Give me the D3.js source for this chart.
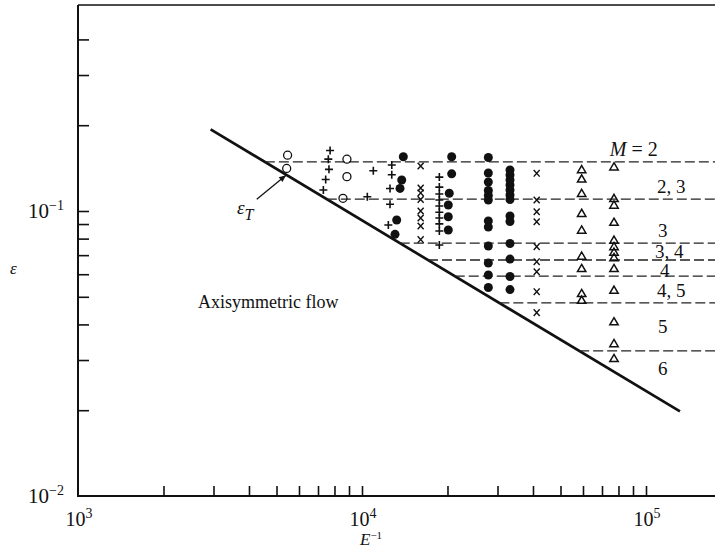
<!DOCTYPE html>
<html>
<head>
<meta charset="utf-8">
<script src="https://cdn.jsdelivr.net/npm/d3@7"></script>
<style>
  body { margin: 0; background: #fff; }
  svg { display: block; }
  text { font-family: "Liberation Serif", "Times New Roman", serif; fill: #111; }
</style>
</head>
<body>
<svg id="chart" width="715" height="550"></svg>
<script>
// Stability threshold eps_T(E^-1): two end points [E^-1, eps]
const thresholdLine = [[2930, 0.1934], [131700, 0.0198]];

// Boundaries between wavenumber regimes (eps levels of the dashed lines)
const modeBoundaries = [0.1486, 0.110, 0.0772, 0.0673, 0.0591, 0.0476, 0.0323];

// Regime labels, their E^-1 anchor and eps baseline
const modeLabels   = ["M = 2", "2, 3", "3", "3, 4", "4", "4, 5", "5", "6"];
const modeLabelE   = [74600, 109300, 110200, 107600, 112000, 109300, 110200, 110200];
const modeLabelEps = [0.156, 0.1157, 0.0811, 0.0683, 0.0589, 0.0499, 0.0373, 0.0266];

// Experimental points [E^-1, eps], one list per symbol
const openCircles = [
  [5470, 0.157], [5430, 0.141], [8850, 0.152], [8850, 0.132], [8570, 0.1108]
];
const plusPoints = [
  [7720, 0.163], [7610, 0.152], [7650, 0.140], [7450, 0.129], [7310, 0.1185],
  [10960, 0.1385], [10440, 0.1122],
  [12730, 0.145], [12730, 0.134], [12550, 0.120], [12550, 0.1056], [12380, 0.0893],
  [18720, 0.1315], [18720, 0.1213], [18720, 0.1147], [18720, 0.1093], [18720, 0.1041],
  [18720, 0.099], [18720, 0.0945], [18720, 0.0901], [18720, 0.0851], [18720, 0.076]
];
const filledCircles = [
  [13980, 0.155], [13800, 0.1285], [13610, 0.120], [13250, 0.093], [13070, 0.0828],
  [20690, 0.155], [20690, 0.135], [20290, 0.1154], [20130, 0.105], [20130, 0.0955], [20130, 0.0858],
  [27850, 0.154], [27850, 0.1359], [27850, 0.1264], [27850, 0.118], [27850, 0.1133], [27850, 0.1093],
  [27850, 0.0923], [27850, 0.0879], [27850, 0.0754], [27850, 0.0657], [27850, 0.0596], [27850, 0.0539],
  [33200, 0.1393], [33200, 0.1338], [33200, 0.1285], [33200, 0.1234], [33200, 0.1185], [33200, 0.1138],
  [33200, 0.1097], [33200, 0.096], [33200, 0.0919], [33200, 0.0769], [33200, 0.0678], [33200, 0.0589],
  [33200, 0.053]
];
const crossPoints = [
  [16090, 0.1438], [16090, 0.1204], [16090, 0.1157], [16090, 0.1097], [16090, 0.100],
  [16090, 0.0945], [16090, 0.0886], [16090, 0.0794],
  [41220, 0.1356], [41220, 0.1093], [41220, 0.0994], [41220, 0.0917], [41220, 0.075],
  [41220, 0.0664], [41220, 0.0612], [41220, 0.0521], [41220, 0.044]
];
const trianglePoints = [
  [59360, 0.1398], [59360, 0.1297], [59360, 0.1154], [59360, 0.0982], [59360, 0.0858],
  [59360, 0.0695], [59360, 0.0629], [59360, 0.0514], [59360, 0.0487],
  [77150, 0.143], [77150, 0.1108], [77150, 0.105], [77150, 0.0914], [77150, 0.0791],
  [77150, 0.0751], [77150, 0.0718], [77150, 0.0687], [77150, 0.0629], [77150, 0.0528],
  [77150, 0.0409], [77150, 0.0343], [77150, 0.0304]
];

// Axis ticks
const xTicks = [2e3, 3e3, 4e3, 5e3, 6e3, 7e3, 8e3, 9e3, 1e4,
                2e4, 3e4, 4e4, 5e4, 6e4, 7e4, 8e4, 9e4, 1e5];
const yTicks = [0.02, 0.03, 0.04, 0.05, 0.06, 0.07, 0.08, 0.09, 0.1, 0.2, 0.3, 0.4];
const xTickLabels = [[1e3, "3"], [1e4, "4"], [1e5, "5"]];
const yTickLabels = [[0.1, "\u22121"], [0.01, "\u22122"]];

// Annotations
const arrowEnds = [[4260, 0.110], [5400, 0.1335]];
const epsTLabelAt = [3628, 0.0975];
const flowLabelAt = [2645, 0.0457];

(function draw() {
  const svg = d3.select("#chart");
  const pL = 78, pR = 715, pT = 5, pB = 496;

  const x = d3.scaleLog().domain([1e3, 1e5]).range([pL, 646]);
  const y = d3.scaleLog().domain([1e-2, 1e-1]).range([pB, 211]);

  // Frame
  const frame = svg.append("g").attr("stroke", "#111").attr("fill", "none");
  frame.append("line").attr("x1", pL).attr("x2", pL).attr("y1", pT).attr("y2", pB).attr("stroke-width", 2);
  frame.append("line").attr("x1", pL - 1).attr("x2", pR).attr("y1", pB).attr("y2", pB).attr("stroke-width", 2);
  frame.append("line").attr("x1", pL).attr("x2", pR).attr("y1", pT).attr("y2", pT).attr("stroke-width", 1.5);

  // Ticks (pointing inward), drawn with d3 axes
  const xAxis = d3.axisBottom(x).tickValues(xTicks).tickSizeInner(-10).tickSizeOuter(0).tickFormat(() => "");
  const gx = svg.append("g").attr("transform", `translate(0,${pB})`).call(xAxis);
  gx.select(".domain").remove();
  gx.selectAll(".tick line").attr("stroke", "#111").attr("stroke-width", 1.6);

  const yAxis = d3.axisLeft(y).tickValues(yTicks).tickSizeInner(-11).tickSizeOuter(0).tickFormat(() => "");
  const gy = svg.append("g").attr("transform", `translate(${pL},0)`).call(yAxis);
  gy.select(".domain").remove();
  gy.selectAll(".tick line").attr("stroke", "#111").attr("stroke-width", 1.6);

  // Tick labels with superscript exponents
  xTickLabels.forEach(([v, e]) => {
    const t = svg.append("text").attr("x", x(v) + 1).attr("y", 526)
      .attr("text-anchor", "middle").attr("font-size", 20);
    t.append("tspan").text("10");
    t.append("tspan").attr("dy", -8).attr("font-size", 14).text(e);
  });
  yTickLabels.forEach(([v, e]) => {
    const t = svg.append("text").attr("x", 64).attr("y", y(v) + 7)
      .attr("text-anchor", "end").attr("font-size", 21);
    t.append("tspan").text("10");
    t.append("tspan").attr("dy", -8).attr("font-size", 14).text(e);
  });

  // Axis titles
  svg.append("text").attr("x", 10).attr("y", 274).attr("font-size", 17)
    .attr("font-style", "italic").text("\u03b5");
  const xt = svg.append("text").attr("x", 360).attr("y", 545).attr("font-size", 17);
  xt.append("tspan").attr("font-style", "italic").text("E");
  xt.append("tspan").attr("dy", -6).attr("font-size", 11).text("\u22121");

  // Threshold line eps_T
  const lineGen = d3.line().x(d => x(d[0])).y(d => y(d[1]));
  svg.append("path").datum(thresholdLine).attr("d", lineGen)
    .attr("fill", "none").attr("stroke", "#111").attr("stroke-width", 2.7);

  // Where a given eps meets the threshold line
  const [[e0, p0], [e1, p1]] = thresholdLine;
  const slope = Math.log(p1 / p0) / Math.log(e1 / e0);
  const thresholdE = eps => e0 * Math.pow(eps / p0, 1 / slope);

  // Dashed regime boundaries, running from the threshold to the right edge
  svg.append("g").selectAll("line").data(modeBoundaries).join("line")
    .attr("x1", d => x(thresholdE(d))).attr("x2", pR)
    .attr("y1", d => y(d)).attr("y2", d => y(d))
    .attr("stroke", "#222").attr("stroke-width", 1.3).attr("stroke-dasharray", "10,4");

  // Regime labels
  modeLabels.forEach((s, i) => {
    const t = svg.append("text").attr("x", x(modeLabelE[i])).attr("y", y(modeLabelEps[i]))
      .attr("font-size", 19);
    if (s.startsWith("M")) {
      t.attr("font-size", 20);
      t.append("tspan").attr("font-style", "italic").text("M");
      t.append("tspan").attr("dx", 5).text("=");
      t.append("tspan").attr("dx", 5).text("2");
    } else {
      t.text(s);
    }
  });

  // Symbols
  const pts = svg.append("g");
  pts.selectAll(".oc").data(openCircles).join("circle").attr("class", "oc")
    .attr("cx", d => x(d[0])).attr("cy", d => y(d[1])).attr("r", 4)
    .attr("fill", "none").attr("stroke", "#111").attr("stroke-width", 1.3);

  pts.selectAll(".fc").data(filledCircles).join("circle").attr("class", "fc")
    .attr("cx", d => x(d[0])).attr("cy", d => y(d[1])).attr("r", 4.5)
    .attr("fill", "#111");

  pts.selectAll(".pl").data(plusPoints).join("path").attr("class", "pl")
    .attr("transform", d => `translate(${x(d[0])},${y(d[1])})`)
    .attr("d", "M-4,0H4M0,-4V4").attr("stroke", "#111").attr("stroke-width", 1.6).attr("fill", "none");

  pts.selectAll(".cr").data(crossPoints).join("path").attr("class", "cr")
    .attr("transform", d => `translate(${x(d[0])},${y(d[1])})`)
    .attr("d", "M-3,-3.3L3,3.3M-3,3.3L3,-3.3").attr("stroke", "#111").attr("stroke-width", 1.4).attr("fill", "none");

  pts.selectAll(".tr").data(trianglePoints).join("path").attr("class", "tr")
    .attr("transform", d => `translate(${x(d[0])},${y(d[1])})`)
    .attr("d", "M0,-4L4.2,3.2L-4.2,3.2Z").attr("stroke", "#111").attr("stroke-width", 1.5).attr("fill", "none");

  // eps_T annotation with arrow
  const [a0, a1] = arrowEnds.map(d => [x(d[0]), y(d[1])]);
  svg.append("line").attr("x1", a0[0]).attr("y1", a0[1]).attr("x2", a1[0]).attr("y2", a1[1])
    .attr("stroke", "#111").attr("stroke-width", 1.3);
  const ang = Math.atan2(a1[1] - a0[1], a1[0] - a0[0]);
  const ah = 7, aw = 3;
  svg.append("path")
    .attr("d", `M${a1[0]},${a1[1]}
      L${a1[0] - ah * Math.cos(ang) + aw * Math.sin(ang)},${a1[1] - ah * Math.sin(ang) - aw * Math.cos(ang)}
      L${a1[0] - ah * Math.cos(ang) - aw * Math.sin(ang)},${a1[1] - ah * Math.sin(ang) + aw * Math.cos(ang)}Z`)
    .attr("fill", "#111");

  const et = svg.append("text").attr("x", x(epsTLabelAt[0])).attr("y", y(epsTLabelAt[1]))
    .attr("font-size", 19).attr("font-style", "italic");
  et.append("tspan").text("\u03b5");
  et.append("tspan").attr("dy", 6).attr("font-size", 16).text("T");

  svg.append("text").attr("x", x(flowLabelAt[0])).attr("y", y(flowLabelAt[1]))
    .attr("font-size", 18).text("Axisymmetric flow");
})();
</script>
</body>
</html>
